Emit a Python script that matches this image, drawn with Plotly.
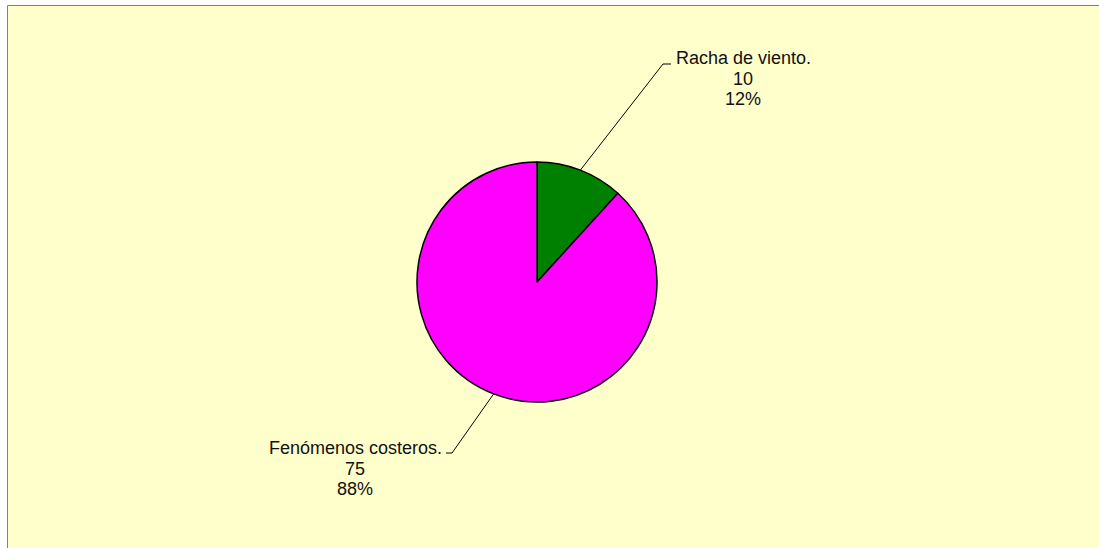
import plotly.graph_objects as go
import math

# ---- data ----
labels = ["Racha de viento.", "Fenómenos costeros."]
values = [10, 75]
colors = ["#008000", "#FF00FF"]

# ---- layout constants (pixels) ----
W, H = 1099, 548
cx, cy, R = 537, 282, 120
label_x = [743, 355]                       # centre x of label text block
label_y = [(57.5, 79, 99.5), (448, 468.5, 489)]  # centre y of each text line
elbow = [((663, 64), (671, 64)), ((452, 453), (446, 453))]

def px(x):
    return x / W

def py(y):
    return 1 - y / H

total = sum(values)
fig = go.Figure()
fig.add_trace(go.Pie(
    labels=labels, values=values, sort=False, direction="clockwise", rotation=0,
    marker=dict(colors=colors, line=dict(color="black", width=1.5)),
    textinfo="none", hoverinfo="label+value+percent", showlegend=False,
    domain=dict(x=[px(cx - R), px(cx + R)], y=[py(cy + R), py(cy - R)]),
))

shapes = [
    dict(type="rect", xref="paper", yref="paper", layer="below",
         x0=px(7.5), x1=1.0, y0=0.0, y1=py(5.5),
         fillcolor="#FFFFCC", line=dict(width=0)),
    dict(type="line", xref="paper", yref="paper", layer="below",
         x0=px(7.5), x1=1.0, y0=py(5.5), y1=py(5.5),
         line=dict(color="#808080", width=1)),
    dict(type="line", xref="paper", yref="paper", layer="below",
         x0=px(7.5), x1=px(7.5), y0=0.0, y1=py(5.5),
         line=dict(color="#808080", width=1)),
]
annotations = []
cum = 0
for i, (lab, v) in enumerate(zip(labels, values)):
    mid = (cum + v / 2) / total * 2 * math.pi
    cum += v
    ex, ey = cx + R * math.sin(mid), cy - R * math.cos(mid)
    (bx, by), (hx, hy) = elbow[i]
    shapes.append(dict(type="line", xref="paper", yref="paper",
                       x0=px(ex), y0=py(ey), x1=px(bx), y1=py(by),
                       line=dict(color="black", width=1)))
    shapes.append(dict(type="line", xref="paper", yref="paper",
                       x0=px(bx), y0=py(by), x1=px(hx), y1=py(hy),
                       line=dict(color="black", width=1)))
    pct = round(v / total * 100)
    for txt, ly in zip([lab, str(v), f"{pct}%"], label_y[i]):
        annotations.append(dict(xref="paper", yref="paper", x=px(label_x[i]), y=py(ly),
                                xanchor="center", yanchor="middle", showarrow=False,
                                align="center", text=txt,
                                font=dict(family="Liberation Sans, Arial", size=18, color="#111111")))

fig.update_layout(width=W, height=H, margin=dict(l=0, r=0, t=0, b=0),
                  paper_bgcolor="white", plot_bgcolor="white",
                  shapes=shapes, annotations=annotations)
fig.write_html("out.html", config={"displayModeBar": False},
               post_script="document.body.style.margin='0';document.body.style.overflow='hidden';")
